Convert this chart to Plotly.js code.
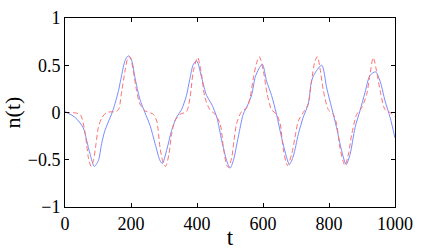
<!DOCTYPE html>
<html>
<head>
<meta charset="utf-8">
<script src="https://cdn.plot.ly/plotly-3.0.1.min.js"></script>
<style>html,body{margin:0;padding:0;background:#fff;}#chart{width:436px;height:250px;}</style>
</head>
<body>
<div id="chart"></div>
<script>
var blueT = [0,30,55,66,76,89,101,111,121,136,146,162,172,182,192,202,212,227,242,258,273,288,295,308,323,338,353,368,378,389,399,414,429,444,460,475,490,500,510,525,540,555,566,576,587,598,611,626,641,656,672,680,692,707,722,737,747,758,778,793,808,823,838,852,864,879,894,909,924,941,955,970,985,1000];
var blueN = [0.01,-0.05,-0.16,-0.30,-0.44,-0.57,-0.51,-0.33,-0.19,-0.06,0.03,0.23,0.40,0.55,0.60,0.55,0.37,0.14,0.0,-0.14,-0.33,-0.51,-0.54,-0.40,-0.19,-0.05,0.03,0.18,0.35,0.51,0.545,0.37,0.18,0.09,-0.05,-0.30,-0.51,-0.59,-0.51,-0.26,-0.02,0.09,0.19,0.37,0.46,0.51,0.33,0.18,-0.02,-0.26,-0.48,-0.55,-0.46,-0.23,-0.05,0.09,0.33,0.42,0.50,0.26,0.05,-0.16,-0.40,-0.55,-0.44,-0.16,0.02,0.21,0.39,0.43,0.33,0.12,-0.05,-0.27];
var redT = [0,45,58,66,71,79,86,94,101,111,126,152,162,172,182,190,197,207,217,227,242,268,278,288,298,305,315,323,333,348,368,379,389,402,412,424,439,455,470,480,490,495,505,512,520,535,551,561,571,581,589,601,613,626,641,652,662,674,687,697,707,722,737,747,758,765,773,783,798,813,823,833,848,859,869,884,899,914,924,934,944,955,970,985,1000];
var redN = [0.0,-0.02,-0.16,-0.35,-0.48,-0.57,-0.51,-0.33,-0.16,-0.06,0.0,0.01,0.03,0.23,0.44,0.57,0.59,0.44,0.23,0.09,0.02,-0.02,-0.09,-0.37,-0.54,-0.57,-0.44,-0.23,-0.09,-0.02,0.01,0.16,0.44,0.58,0.44,0.16,0.03,-0.02,-0.12,-0.37,-0.56,-0.58,-0.48,-0.30,-0.12,0.01,0.05,0.16,0.37,0.53,0.59,0.44,0.19,0.03,-0.02,-0.12,-0.40,-0.56,-0.44,-0.26,-0.09,0.0,0.09,0.33,0.55,0.59,0.46,0.23,0.03,-0.02,-0.12,-0.37,-0.56,-0.44,-0.23,-0.02,0.05,0.19,0.40,0.58,0.44,0.23,0.03,0.0,-0.05];
var xTicks = [0,200,400,600,800,1000];
var yTicks = [-1,-0.5,0,0.5,1];
var yTickText = ['\u22121','\u22120.5','0','0.5','1'];

var font = 'Liberation Serif';
var traces = [
  {x: blueT, y: blueN, mode: 'lines', type: 'scatter', line: {color: '#7a8cff', width: 1, shape: 'spline', smoothing: 0.8}, hoverinfo: 'none'},
  {x: redT, y: redN, mode: 'lines', type: 'scatter', line: {color: '#ff7070', width: 1, dash: '5px,3px', shape: 'spline', smoothing: 0.8}, hoverinfo: 'none'}
];
var axisCommon = {
  showgrid: false, zeroline: false, showline: true, linecolor: '#000', linewidth: 1,
  mirror: 'allticks', ticks: 'inside', ticklen: 4, tickcolor: '#000', tickwidth: 1,
  tickfont: {family: font, size: 18, color: '#000'}
};
var layout = {
  width: 436, height: 250,
  margin: {l: 65, r: 41, t: 18, b: 43},
  paper_bgcolor: '#fff', plot_bgcolor: '#fff',
  showlegend: false,
  font: {family: font, color: '#000'},
  xaxis: Object.assign({}, axisCommon, {
    range: [0, 1000], tickvals: xTicks, ticktext: xTicks.map(String),
    title: {text: 't', font: {family: font, size: 23, color: '#000'}, standoff: 0}
  }),
  yaxis: Object.assign({}, axisCommon, {
    range: [-1, 1], tickvals: yTicks, ticktext: yTickText,
    title: {text: 'n(t)', font: {family: font, size: 22, color: '#000'}, standoff: 4}
  })
};
Plotly.newPlot('chart', traces, layout, {staticPlot: true, displayModeBar: false});
</script>
</body>
</html>
